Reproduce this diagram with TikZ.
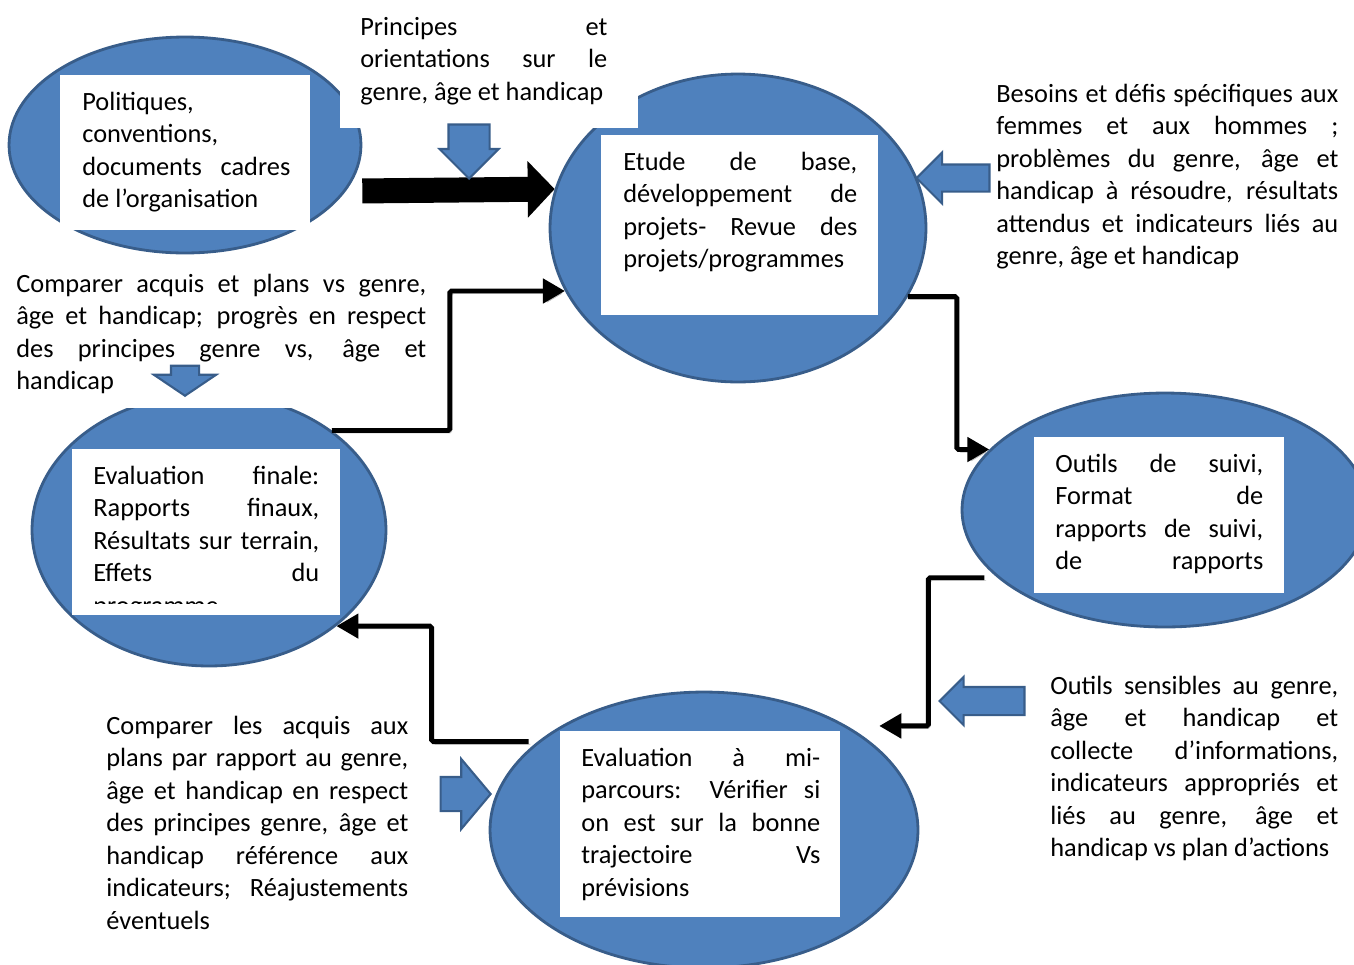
\documentclass[tikz,border=0pt]{standalone}
\usepackage{fontspec}
\setmainfont{Carlito}
\usetikzlibrary{arrows.meta, shapes.geometric, shapes.arrows}
\definecolor{bubblefill}{HTML}{4F81BD}
\definecolor{bubbleedge}{HTML}{385D8A}
\hbadness=10000
\tolerance=10000
\hyphenpenalty=10000

\begin{document}
\begin{tikzpicture}[x=0.02cm, y=-0.02cm,
    bubble/.style={ellipse, draw=bubbleedge, fill=bubblefill, line width=1.6pt, inner sep=0pt},
    card/.style={rectangle, fill=white, inner sep=0pt},
    txt/.style={anchor=base west, inner sep=0pt, align=justify, font=\fontsize{15}{18.5}\selectfont},
    hint/.style={single arrow, draw=bubbleedge, fill=bubblefill, line width=1.2pt, inner xsep=0pt, anchor=tip},
    flow/.style={line width=2.8pt, rounded corners=1pt, -{Triangle[length=0.44cm, width=0.48cm]},
        preaction={draw=black!25, transform canvas={xshift=1pt, yshift=-1.5pt}}},
    bigflow/.style={line width=0.5cm, shorten <=0.33cm, -{Triangle[length=0.54cm, width=1.1cm]}}]
\useasboundingbox (0,0) rectangle (1354,964);

% the five steps
\node[bubble, minimum width=7.04cm, minimum height=4.32cm] (pol) at (185,145) {};
\node[bubble, minimum width=7.52cm, minimum height=6.16cm] (etude) at (738,228) {};
\node[bubble, minimum width=7.08cm, minimum height=5.44cm] (finale) at (209,530) {};
\node[bubble, minimum width=8.12cm, minimum height=4.68cm] (outils) at (1165,510) {};
\node[bubble, minimum width=8.56cm, minimum height=5.52cm] (mi) at (704,830) {};

% white frames
\node[card, minimum width=5.96cm, minimum height=2.56cm] (princbox) at (489,64) {};
\node[card, minimum width=8.8cm, minimum height=2.86cm] (compbox) at (220,336.5) {};
\node[card, minimum width=5cm, minimum height=3.1cm] (polbox) at (185,152.5) {};
\node[card, minimum width=5.54cm, minimum height=3.6cm] (etudebox) at (739.5,225) {};
\node[card, minimum width=5.36cm, minimum height=3.32cm] (finalebox) at (206,532) {};
\node[card, minimum width=5cm, minimum height=3.12cm] (outilsbox) at (1159,515) {};
\node[card, minimum width=5.6cm, minimum height=3.72cm] (mibox) at (700,824) {};

% texts
\node[txt, text width=4.16cm] (poltxt) at (82,110) {Politiques,\linebreak conventions,\linebreak documents cadres\linebreak de l’organisation};
\node[txt, text width=4.94cm] (princtxt) at (360,35) {Principes et\linebreak orientations sur le\linebreak genre, âge et handicap};
\node[txt, text width=4.68cm] (etudetxt) at (623,170) {Etude de base,\linebreak développement de\linebreak projets- Revue des\linebreak projets/programmes};
\node[txt, text width=6.84cm] (besointxt) at (996,102) {Besoins et défis spécifiques aux\linebreak femmes et aux hommes ;\linebreak problèmes du genre, âge et\linebreak handicap à résoudre, résultats\linebreak attendus et indicateurs liés au\linebreak genre, âge et handicap};
\node[txt, text width=8.2cm] (comptxt) at (16,292) {Comparer acquis et plans vs genre,\linebreak âge et handicap; progrès en respect\linebreak des principes genre vs, âge et\linebreak handicap};
\begin{scope}
\clip (72,449) rectangle (340,603);
\node[txt, text width=4.52cm] (finaletxt) at (93,484) {Evaluation finale:\linebreak Rapports finaux,\linebreak Résultats sur terrain,\linebreak Effets du\linebreak programme};
\end{scope}
\node[txt, text width=4.16cm] (outilstxt) at (1055,472) {Outils de suivi,\linebreak Format de\linebreak rapports de suivi,\linebreak\makebox[\linewidth][s]{de rapports}};
\node[txt, text width=5.76cm] (sensitxt) at (1050,694) {Outils sensibles au genre,\linebreak âge et handicap et\linebreak collecte d’informations,\linebreak indicateurs appropriés et\linebreak liés au genre, âge et\linebreak handicap vs plan d’actions};
\node[txt, text width=4.78cm] (mitxt) at (581,766) {Evaluation à mi-\linebreak parcours: Vérifier si\linebreak on est sur la bonne\linebreak trajectoire Vs\linebreak prévisions};
\node[txt, text width=6.04cm] (acquistxt) at (106,734) {Comparer les acquis aux\linebreak plans par rapport au genre,\linebreak âge et handicap en respect\linebreak des principes genre, âge et\linebreak handicap référence aux\linebreak indicateurs; Réajustements\linebreak éventuels};

% connectors
\draw[bigflow] (pol.-16) -- (etude.168);
\draw[flow] (finale.39) -- ++(118,0) |- (etude.200);
\draw[flow] (etude.-22) -- ++(49,0) |- (outils.161);
\draw[flow, shorten <=0.26cm, shorten >=0.64cm] (outils.202) -- ++(-69,0) |- (mi.36);
\draw[flow, shorten <=0.18cm] (mi.152) -- ++(-106,0) |- (finale.-37);

% inputs
\node[hint, rotate=-90, inner ysep=0.39cm, minimum height=1.08cm, minimum width=1.14cm, single arrow head extend=0.18cm] (hintprinc) at (469,180) {};
\node[hint, rotate=180, inner ysep=0.25cm, minimum height=1.46cm, minimum width=0.98cm, single arrow head extend=0.24cm] (hintbesoin) at (915,178) {};
\node[hint, rotate=-90, inner ysep=0.26cm, minimum height=0.6cm, minimum width=1.2cm, single arrow head extend=0.34cm, single arrow tip angle=112] (hintcomp) at (185,397) {};
\node[hint, rotate=180, inner ysep=0.26cm, minimum height=1.7cm, minimum width=0.92cm, single arrow head extend=0.2cm] (hintsensi) at (938,701) {};
\node[hint, inner ysep=0.32cm, minimum height=1.0cm, minimum width=1.36cm, single arrow head extend=0.36cm, single arrow tip angle=100] (hintacquis) at (492,794) {};
\end{tikzpicture}
\end{document}
